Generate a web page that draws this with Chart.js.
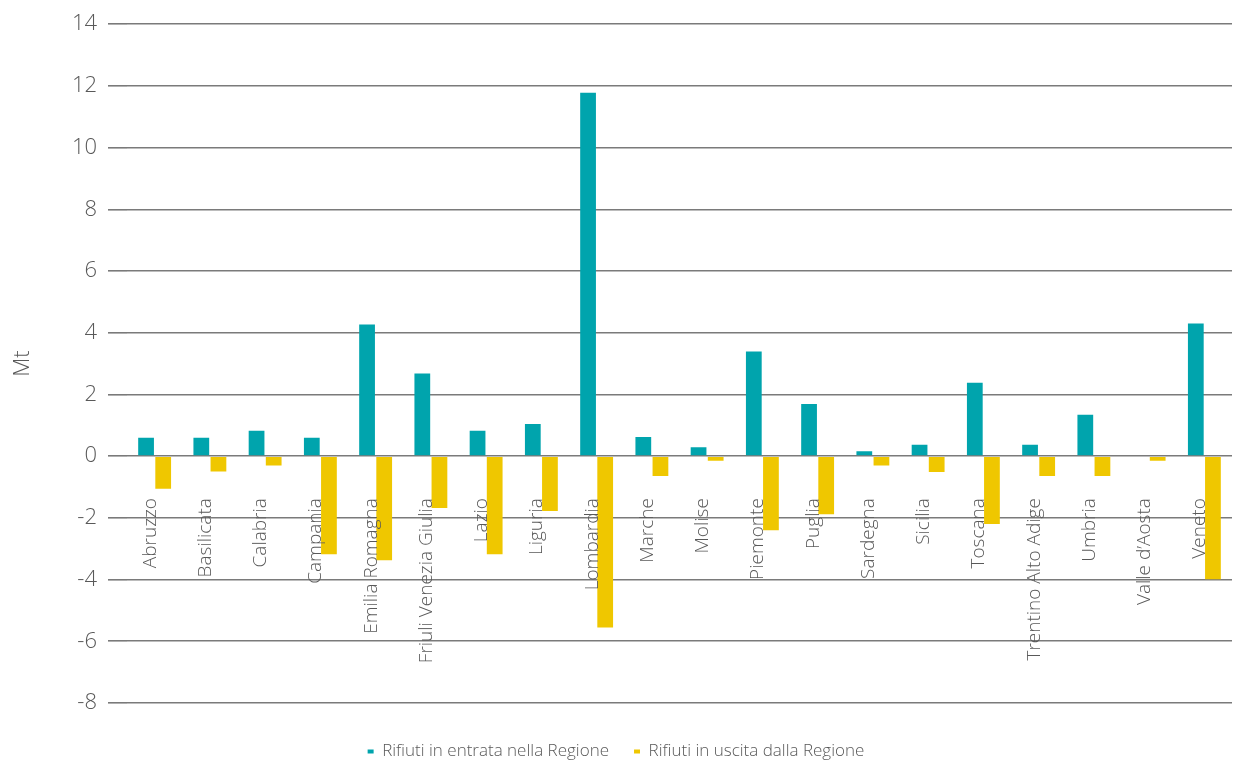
<!DOCTYPE html>
<html>
<head>
<meta charset="utf-8">
<script src="https://cdn.jsdelivr.net/npm/chart.js@4.4.1/dist/chart.umd.min.js"></script>
<style>
  html, body { margin: 0; padding: 0; overflow: hidden; background: #fff; }
  #wrap { width: 1235px; height: 770px; }
</style>
</head>
<body>
<div id="wrap"><canvas id="rifiutiChart"></canvas></div>
<script>
const regioni = [
  "Abruzzo", "Basilicata", "Calabria", "Campania", "Emilia Romagna",
  "Friuli Venezia Giulia", "Lazio", "Liguria", "Lombardia", "Marche",
  "Molise", "Piemonte", "Puglia", "Sardegna", "Sicilia", "Toscana",
  "Trentino Alto Adige", "Umbria", "Valle d\u2019Aosta", "Veneto"
];
const entrata = [0.6, 0.6, 0.82, 0.6, 4.27, 2.68, 0.82, 1.04, 11.78, 0.62,
  0.29, 3.39, 1.69, 0.16, 0.37, 2.38, 0.37, 1.34, 0, 4.3];
const uscita = [-1.06, -0.5, -0.3, -3.18, -3.37, -1.68, -3.18, -1.78, -5.55, -0.64,
  -0.15, -2.4, -1.88, -0.3, -0.51, -2.2, -0.64, -0.64, -0.15, -3.99];

const yMin = -8;
const yMax = 14;
const yStep = 2;

const textColor = "#595959";
const gridColor = "#7a7a7a";

// region names sit under the zero line, rotated
const regionLabels = {
  id: "regionLabels",
  afterDatasetsDraw(chart) {
    const { ctx, scales } = chart;
    const y0 = scales.y.getPixelForValue(0);
    ctx.save();
    ctx.font = "300 19px 'Open Sans'";
    ctx.fillStyle = textColor;
    ctx.textAlign = "right";
    ctx.textBaseline = "alphabetic";
    regioni.forEach((name, i) => {
      ctx.save();
      ctx.translate(scales.x.getPixelForValue(i) + 1, y0 + 42);
      ctx.rotate(-Math.PI / 2);
      ctx.fillText(name, 0, 0);
      ctx.restore();
    });
    ctx.restore();
  },
};

const ctx = document.getElementById("rifiutiChart").getContext("2d");
new Chart(ctx, {
  type: "bar",
  data: {
    labels: regioni,
    datasets: [
      {
        label: "Rifiuti in entrata nella Regione",
        data: entrata,
        backgroundColor: "#00a4ad",
        categoryPercentage: 0.62,
        barPercentage: 0.92,
      },
      {
        label: "Rifiuti in uscita dalla Regione",
        data: uscita,
        backgroundColor: "#efc700",
        categoryPercentage: 0.62,
        barPercentage: 0.92,
      },
    ],
  },
  options: {
    responsive: true,
    maintainAspectRatio: false,
    animation: false,
    layout: { padding: { top: 14, right: 3, left: 0, bottom: 0 } },
    plugins: {
      tooltip: { enabled: false },
      legend: {
        position: "bottom",
        labels: {
          color: textColor,
          font: { family: "'Open Sans'", size: 17, weight: 300 },
          boxWidth: 6,
          boxHeight: 4,
          padding: 25,
        },
      },
    },
    scales: {
      x: {
        grid: { display: false },
        border: { display: false },
        ticks: { display: false },
        afterFit: (scale) => {
          scale.height = 15;
        },
      },
      y: {
        min: yMin,
        max: yMax,
        ticks: {
          stepSize: yStep,
          color: textColor,
          padding: 11,
          font: { family: "'Open Sans'", size: 22, weight: 300 },
        },
        grid: {
          color: gridColor,
          lineWidth: 1.6,
          tickLength: 19,
          tickColor: gridColor,
        },
        border: { display: false },
        title: {
          display: true,
          text: "Mt",
          color: textColor,
          padding: { top: 10, bottom: 0 },
          font: { family: "'Open Sans'", size: 22, weight: 300 },
        },
        afterFit: (scale) => {
          scale.width = 127;
        },
      },
    },
  },
  plugins: [regionLabels],
});
</script>
</body>
</html>
